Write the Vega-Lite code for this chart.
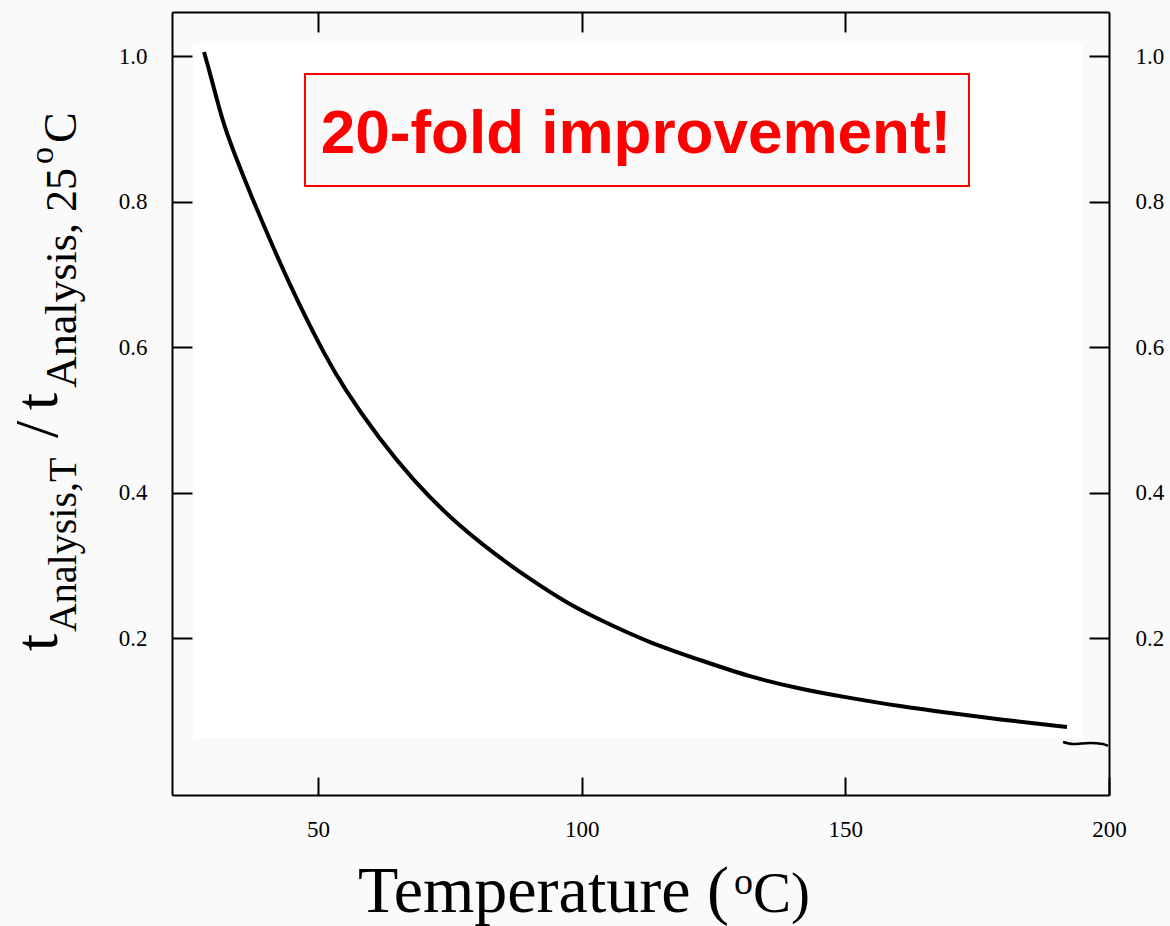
{
  "$schema": "https://vega.github.io/schema/vega-lite/v6.json",
  "autosize": "none",
  "width": 937,
  "height": 783,
  "padding": {"left": 172, "top": 12, "right": 61, "bottom": 131},
  "background": "#fafafa",
  "config": {
    "view": {"stroke": null},
    "axis": {
      "labelFont": "Liberation Serif",
      "labelFontSize": 23,
      "labelColor": "#000000",
      "tickColor": "#000000",
      "tickWidth": 2,
      "domainColor": "#000000",
      "domainWidth": 2,
      "grid": false,
      "title": null
    }
  },
  "resolve": {"axis": {"x": "independent", "y": "independent"}},
  "datasets": {
    "curve": [
      {"T": 28.38, "ratio": 1.0055},
      {"T": 29.52, "ratio": 0.9766},
      {"T": 31.98, "ratio": 0.9079},
      {"T": 33.88, "ratio": 0.8708},
      {"T": 37.10, "ratio": 0.8117},
      {"T": 40.89, "ratio": 0.7471},
      {"T": 44.69, "ratio": 0.6850},
      {"T": 47.91, "ratio": 0.6371},
      {"T": 50.95, "ratio": 0.5940},
      {"T": 54.74, "ratio": 0.5450},
      {"T": 61.75, "ratio": 0.4722},
      {"T": 68.01, "ratio": 0.4172},
      {"T": 75.03, "ratio": 0.3650},
      {"T": 83.18, "ratio": 0.3168},
      {"T": 90.77, "ratio": 0.2780},
      {"T": 97.22, "ratio": 0.2481},
      {"T": 103.47, "ratio": 0.2247},
      {"T": 112.96, "ratio": 0.1931},
      {"T": 122.44, "ratio": 0.1698},
      {"T": 131.92, "ratio": 0.1464},
      {"T": 141.40, "ratio": 0.1300},
      {"T": 150.88, "ratio": 0.1175},
      {"T": 160.36, "ratio": 0.1060},
      {"T": 169.85, "ratio": 0.0969},
      {"T": 179.33, "ratio": 0.0880},
      {"T": 192.03, "ratio": 0.0777}
    ],
    "squiggle": [
      {"T": 191.28, "ratio": 0.0571},
      {"T": 193.18, "ratio": 0.0543},
      {"T": 196.40, "ratio": 0.0557},
      {"T": 198.86, "ratio": 0.0543},
      {"T": 199.81, "ratio": 0.0516}
    ]
  },
  "layer": [
    {
      "data": {"values": [{"label": "plot area"}]},
      "mark": {"type": "rect", "fill": "#ffffff", "stroke": null},
      "encoding": {
        "x": {"datum": 26.29, "type": "quantitative", "axis": null, "scale": {"domain": [22.31, 200], "nice": false, "zero": false}},
        "x2": {"datum": 195.07},
        "y": {"datum": 1.0165, "type": "quantitative", "axis": null, "scale": {"domain": [-0.0158, 1.0605], "nice": false, "zero": false}},
        "y2": {"datum": 0.0625}
      }
    },
    {
      "data": {"name": "curve"},
      "mark": {"type": "line", "color": "#000000", "strokeWidth": 4, "interpolate": "basis"},
      "encoding": {
        "x": {"field": "T", "type": "quantitative",
              "scale": {"domain": [22.31, 200], "nice": false, "zero": false},
              "axis": {"orient": "bottom", "values": [50, 100, 150, 200], "tickSize": -18, "labelPadding": 41, "labelFlush": false}},
        "y": {"field": "ratio", "type": "quantitative",
              "scale": {"domain": [-0.0158, 1.0605], "nice": false, "zero": false},
              "axis": {"orient": "left", "values": [0.2, 0.4, 0.6, 0.8, 1.0], "format": ".1f", "tickSize": -20, "labelPadding": 45}}
      }
    },
    {
      "data": {"name": "squiggle"},
      "mark": {"type": "line", "color": "#000000", "strokeWidth": 2.5, "interpolate": "monotone"},
      "encoding": {
        "x": {"field": "T", "type": "quantitative",
              "axis": {"orient": "top", "values": [50, 100, 150], "labels": false, "tickSize": -20}},
        "y": {"field": "ratio", "type": "quantitative",
              "axis": {"orient": "right", "values": [0.2, 0.4, 0.6, 0.8, 1.0], "format": ".1f", "tickSize": -20, "labelPadding": 46}}
      }
    },
    {
      "data": {"values": [{"label": "box"}]},
      "mark": {"type": "rect", "fill": "#fafafa", "stroke": "#ff0000", "strokeWidth": 2},
      "encoding": {
        "x": {"datum": 47.53, "type": "quantitative", "axis": null},
        "x2": {"datum": 173.45},
        "y": {"datum": 0.9753, "type": "quantitative", "axis": null},
        "y2": {"datum": 0.8213}
      }
    },
    {
      "data": {"values": [{"label": "20-fold improvement!"}]},
      "mark": {"type": "text", "font": "Liberation Sans", "fontWeight": "bold", "fontSize": 62, "color": "#ff0000", "align": "center", "baseline": "alphabetic"},
      "encoding": {
        "x": {"datum": 110.3, "type": "quantitative", "axis": null},
        "y": {"datum": 0.8667, "type": "quantitative", "axis": null},
        "text": {"field": "label"}
      }
    },
    {
      "data": {"values": [{"label": "Temperature ("}]},
      "mark": {"type": "text", "font": "Liberation Serif", "fontSize": 66, "color": "#000000", "align": "left", "baseline": "alphabetic"},
      "encoding": {
        "x": {"datum": 57.58, "type": "quantitative", "axis": null},
        "y": {"datum": -0.1766, "type": "quantitative", "axis": null},
        "text": {"field": "label"}
      }
    },
    {
      "data": {"values": [{"label": "o"}]},
      "mark": {"type": "text", "font": "Liberation Serif", "fontSize": 38, "color": "#000000", "align": "left", "baseline": "alphabetic"},
      "encoding": {
        "x": {"datum": 128.88, "type": "quantitative", "axis": null},
        "y": {"datum": -0.1519, "type": "quantitative", "axis": null},
        "text": {"field": "label"}
      }
    },
    {
      "data": {"values": [{"label": "C)"}]},
      "mark": {"type": "text", "font": "Liberation Serif", "fontSize": 57, "color": "#000000", "align": "left", "baseline": "alphabetic"},
      "encoding": {
        "x": {"datum": 132.49, "type": "quantitative", "axis": null},
        "y": {"datum": -0.1766, "type": "quantitative", "axis": null},
        "text": {"field": "label"}
      }
    },
    {
      "data": {"values": [{"label": "t"}]},
      "mark": {"type": "text", "font": "Liberation Serif", "fontSize": 62, "color": "#000000", "align": "left", "baseline": "alphabetic", "angle": 270},
      "encoding": {
        "x": {"datum": 0.50, "type": "quantitative", "axis": null},
        "y": {"datum": 0.1821, "type": "quantitative", "axis": null},
        "text": {"field": "label"}
      }
    },
    {
      "data": {"values": [{"label": "Analysis,T"}]},
      "mark": {"type": "text", "font": "Liberation Serif", "fontSize": 40, "color": "#000000", "align": "left", "baseline": "alphabetic", "angle": 270},
      "encoding": {
        "x": {"datum": 4.11, "type": "quantitative", "axis": null},
        "y": {"datum": 0.2082, "type": "quantitative", "axis": null},
        "text": {"field": "label"}
      }
    },
    {
      "data": {"values": [{"label": "/"}]},
      "mark": {"type": "text", "font": "Liberation Serif", "fontSize": 62, "color": "#000000", "align": "left", "baseline": "alphabetic", "angle": 270},
      "encoding": {
        "x": {"datum": 0.50, "type": "quantitative", "axis": null},
        "y": {"datum": 0.4749, "type": "quantitative", "axis": null},
        "text": {"field": "label"}
      }
    },
    {
      "data": {"values": [{"label": "t"}]},
      "mark": {"type": "text", "font": "Liberation Serif", "fontSize": 62, "color": "#000000", "align": "left", "baseline": "alphabetic", "angle": 270},
      "encoding": {
        "x": {"datum": 0.50, "type": "quantitative", "axis": null},
        "y": {"datum": 0.5134, "type": "quantitative", "axis": null},
        "text": {"field": "label"}
      }
    },
    {
      "data": {"values": [{"label": "Analysis, 25"}]},
      "mark": {"type": "text", "font": "Liberation Serif", "fontSize": 44, "color": "#000000", "align": "left", "baseline": "alphabetic", "angle": 270},
      "encoding": {
        "x": {"datum": 4.11, "type": "quantitative", "axis": null},
        "y": {"datum": 0.5436, "type": "quantitative", "axis": null},
        "text": {"field": "label"}
      }
    },
    {
      "data": {"values": [{"label": "o"}]},
      "mark": {"type": "text", "font": "Liberation Serif", "fontSize": 34, "color": "#000000", "align": "left", "baseline": "alphabetic", "angle": 270},
      "encoding": {
        "x": {"datum": -0.26, "type": "quantitative", "axis": null},
        "y": {"datum": 0.8515, "type": "quantitative", "axis": null},
        "text": {"field": "label"}
      }
    },
    {
      "data": {"values": [{"label": "C"}]},
      "mark": {"type": "text", "font": "Liberation Serif", "fontSize": 46, "color": "#000000", "align": "left", "baseline": "alphabetic", "angle": 270},
      "encoding": {
        "x": {"datum": 4.11, "type": "quantitative", "axis": null},
        "y": {"datum": 0.8804, "type": "quantitative", "axis": null},
        "text": {"field": "label"}
      }
    }
  ]
}
